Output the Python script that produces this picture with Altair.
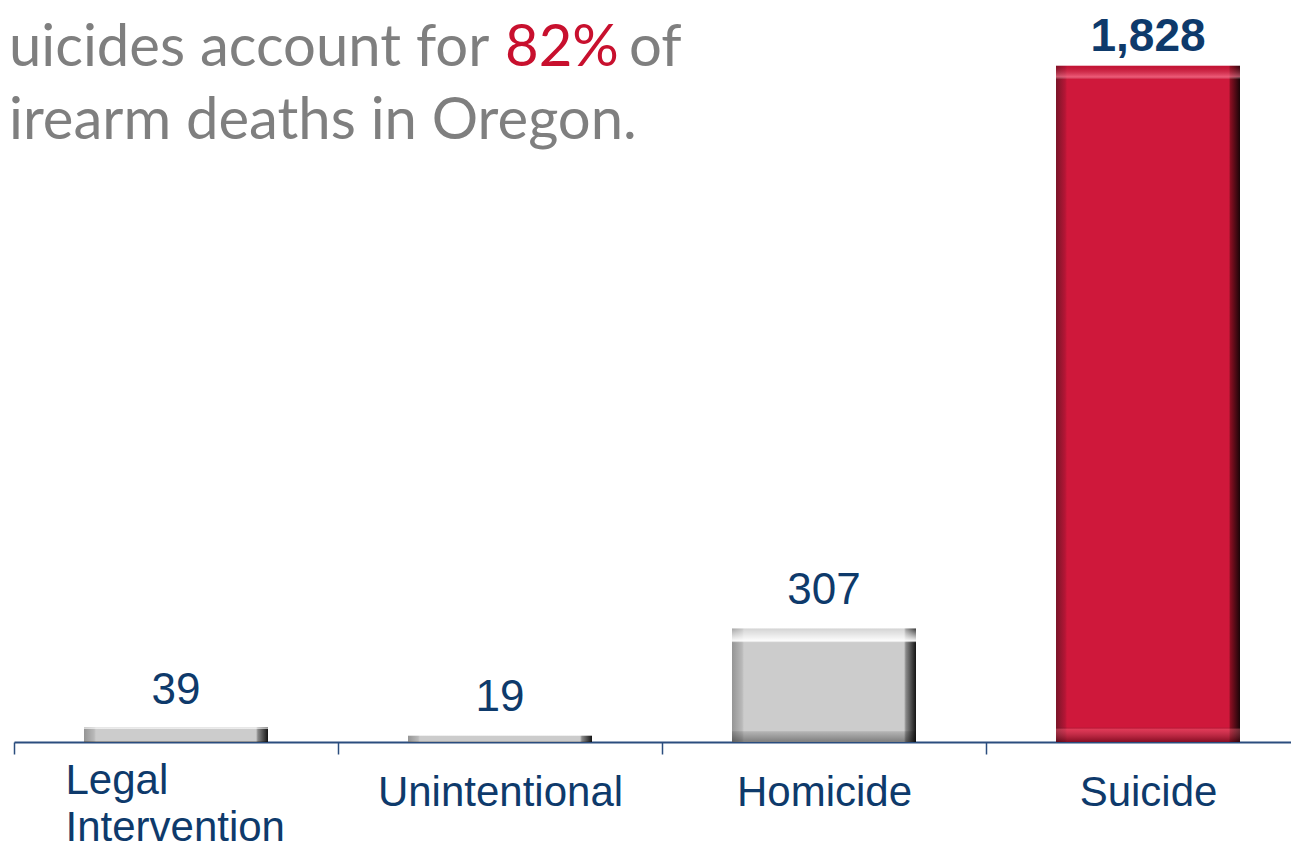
import altair as alt
import pandas as pd

categories = ["Legal Intervention", "Unintentional", "Homicide", "Suicide"]
deaths = [39, 19, 307, 1828]
highlight = "Suicide"
headline_line1 = ["uicides account for", "82%", "of"]
headline_line2 = "irearm deaths in Oregon."

df = pd.DataFrame({"category": categories, "deaths": deaths})

NAVY = "#0e3a6b"
GRAY_TXT = "#7f7f7f"
RED_TXT = "#c8102e"


def stops(pairs):
    return [alt.GradientStop(offset=o, color=c) for o, c in pairs]


gray_h = alt.LinearGradient(gradient="linear", x1=0, x2=1, y1=0, y2=0, stops=stops([
    (0, "#959595"), (0.055, "#b9b9b9"), (0.065, "#cccccc"),
    (0.935, "#cccccc"), (0.945, "#8a8a8a"), (1, "#141414")]))
gray_v = alt.LinearGradient(gradient="linear", x1=0, x2=0, y1=0, y2=1, stops=stops([
    (0, "rgba(255,255,255,0.15)"), (0.11, "rgba(255,255,255,0.95)"), (0.125, "rgba(255,255,255,0)"),
    (0.9, "rgba(0,0,0,0)"), (0.91, "rgba(0,0,0,0.12)"), (1, "rgba(0,0,0,0.38)")]))
red_h = alt.LinearGradient(gradient="linear", x1=0, x2=1, y1=0, y2=0, stops=stops([
    (0, "#7a1528"), (0.05, "#b51636"), (0.06, "#cf183b"),
    (0.94, "#cf183b"), (0.948, "#8a0f22"), (1, "#1a0508")]))
red_v = alt.LinearGradient(gradient="linear", x1=0, x2=0, y1=0, y2=1, stops=stops([
    (0, "rgba(150,0,25,0.2)"), (0.016, "rgba(255,130,155,0.6)"), (0.02, "rgba(255,255,255,0)"),
    (0.978, "rgba(0,0,0,0)"), (0.981, "rgba(255,120,140,0.35)"), (1, "rgba(60,0,10,0.5)")]))

is_legal = "datum.value == 'Legal Intervention'"
x_enc = alt.X("category:N", sort=categories,
              scale=alt.Scale(paddingInner=0, paddingOuter=0, range=[0, 1296]),
              axis=alt.Axis(title=None, labelAngle=0, tickBand="extent", labelLimit=0,
                            labelExpr="split(datum.label, ' ')",
                            labelAlign=alt.expr(f"{is_legal} ? 'left' : 'center'"),
                            labelOffset=alt.expr(f"{is_legal} ? -111 : 0"),
                            labelPadding=alt.expr(f"{is_legal} ? 6 : 18")))
y_enc = alt.Y("deaths:Q", scale=alt.Scale(domain=[0, 1900]), axis=None)

base = alt.Chart(df).encode(x=x_enc, y=y_enc)
is_hi = alt.datum.category == highlight
not_hi = alt.datum.category != highlight

bars_gray = base.transform_filter(not_hi).mark_bar(size=184, fill=gray_h)
bars_gray_ov = base.transform_filter(not_hi).mark_bar(size=184, fill=gray_v)
bars_red = base.transform_filter(is_hi).mark_bar(size=184, fill=red_h)
bars_red_ov = base.transform_filter(is_hi).mark_bar(size=184, fill=red_v)

labels_norm = base.transform_filter(not_hi).mark_text(
    font="Liberation Sans", fontSize=44, color=NAVY, baseline="alphabetic", dy=-24
).encode(text=alt.Text("deaths:Q", format=","))
labels_bold = base.transform_filter(is_hi).mark_text(
    font="Liberation Sans", fontSize=46, fontWeight="bold", color=NAVY, baseline="alphabetic", dy=-15
).encode(text=alt.Text("deaths:Q", format=","))

head_df = pd.DataFrame({"t": [0]})
hfont = dict(font="Lato", fontSize=58, baseline="alphabetic")
h1a = alt.Chart(head_df).mark_text(text=headline_line1[0], align="left", color=GRAY_TXT, **hfont).encode(
    x=alt.value(-5), y=alt.value(27))
h1b = alt.Chart(head_df).mark_text(text=headline_line1[1], align="left", color=RED_TXT, **hfont).encode(
    x=alt.value(491), y=alt.value(27))
h1c = alt.Chart(head_df).mark_text(text=headline_line1[2], align="left", color=GRAY_TXT, **hfont).encode(
    x=alt.value(615), y=alt.value(27))
h2 = alt.Chart(head_df).mark_text(text=headline_line2, align="left", color=GRAY_TXT, **hfont).encode(
    x=alt.value(-5), y=alt.value(100))

chart = alt.layer(
    bars_gray, bars_gray_ov, bars_red, bars_red_ov, labels_norm, labels_bold, h1a, h1b, h1c, h2
).properties(
    width=1277, height=703,
    autosize=alt.AutoSizeParams(type="none"),
    padding={"left": 6, "top": 31, "right": 0, "bottom": 111},
    background="white",
).configure_view(stroke=None).configure_axis(
    domainColor="#2b4d7e", domainWidth=2, tickColor="#2b4d7e", tickWidth=1.5, tickSize=12,
    labelFont="Liberation Sans", labelFontSize=42, labelColor=NAVY,
    labelLineHeight=47, grid=False,
)

chart.save("out.html", embed_options={"renderer": "svg", "actions": False})
